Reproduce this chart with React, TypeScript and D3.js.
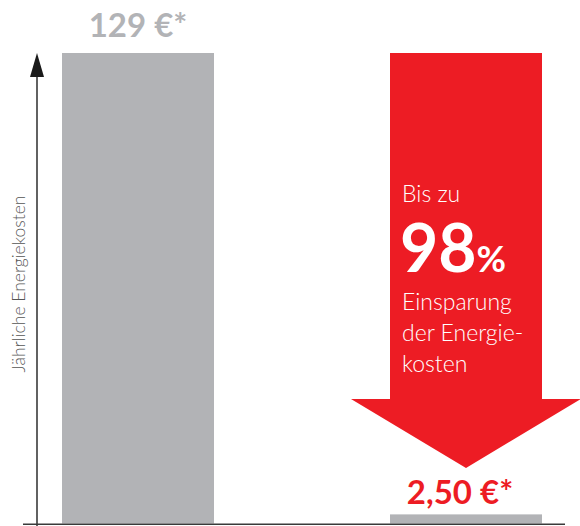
import React from "react";
import * as d3 from "d3";

const categories = ["Vorher", "Nachher"];
const values = [129, 2.5];
const valueLabels = ["129 €*", "2,50 €*"];
const axisLabel = "Jährliche Energiekosten";
const arrowLines = ["Bis zu", "98", "%", "Einsparung", "der Energie-", "kosten"];

const W = 580;
const H = 526;
const GRAY = "#b2b3b6";
const RED = "#ed1c24";
const FONT = "Lato, 'Open Sans', sans-serif";

export default function App() {
  const x = d3.scaleBand<string>().domain(categories).range([62, 542]).paddingInner(0.5366).paddingOuter(0);
  const y = d3.scaleLinear().domain([0, values[0]]).range([523.5, 53]);
  const bw = x.bandwidth();

  const x2 = x(categories[1])!;
  const cx2 = x2 + bw / 2;
  const headTop = 399;
  const headHalf = 115;
  const tipY = 468;
  const arrowPath = d3.path();
  arrowPath.moveTo(x2, y(values[0]));
  arrowPath.lineTo(x2 + bw, y(values[0]));
  arrowPath.lineTo(x2 + bw, headTop);
  arrowPath.lineTo(cx2 + headHalf, headTop);
  arrowPath.lineTo(cx2, tipY);
  arrowPath.lineTo(cx2 - headHalf, headTop);
  arrowPath.lineTo(x2, headTop);
  arrowPath.closePath();

  const axisX = 37;
  const textX = x2 + 12;

  return (
    <svg width={W} height={H} style={{ position: "absolute", left: 0, top: 0 }}>
      <rect width={W} height={H} fill="#fff" />
      {categories.map((c, i) => (
        <rect key={c} x={x(c)} y={y(values[i])} width={bw} height={y(0) - y(values[i])} fill={GRAY} />
      ))}
      <path d={arrowPath.toString()} fill={RED} />
      <line x1={23} x2={565} y1={524.2} y2={524.2} stroke="#3a3a3a" strokeWidth={1.6} />
      <line x1={axisX} x2={axisX} y1={526} y2={72} stroke="#3a3a3a" strokeWidth={1.6} />
      <path d={`M${axisX},53 L${axisX + 7},77 L${axisX - 7},77 Z`} fill="#1a1a1a" />
      <text
        transform={`translate(25,284) rotate(-90)`}
        textAnchor="middle"
        fontFamily={FONT}
        fontWeight={300}
        fontSize={17.5}
        fill="#555"
      >
        {axisLabel}
      </text>
      <text x={x(categories[0])! + bw / 2} y={37} textAnchor="middle" fontFamily={FONT} fontWeight={700} fontSize={33} fill={GRAY}>
        {valueLabels[0]}
      </text>
      <text x={cx2 - 6} y={504} textAnchor="middle" fontFamily={FONT} fontWeight={700} fontSize={33} fill={RED}>
        {valueLabels[1]}
      </text>
      <g fontFamily={FONT} fill="#fff">
        <text x={textX} y={202} fontSize={23} fontWeight={300}>{arrowLines[0]}</text>
        <text x={textX - 2} y={272} fontSize={66} fontWeight={700}>
          {arrowLines[1]}
          <tspan fontSize={36} fontWeight={700}>{arrowLines[2]}</tspan>
        </text>
        <text x={textX} y={310} fontSize={23} fontWeight={300}>{arrowLines[3]}</text>
        <text x={textX} y={341} fontSize={23} fontWeight={300}>{arrowLines[4]}</text>
        <text x={textX} y={372} fontSize={23} fontWeight={300}>{arrowLines[5]}</text>
      </g>
    </svg>
  );
}
